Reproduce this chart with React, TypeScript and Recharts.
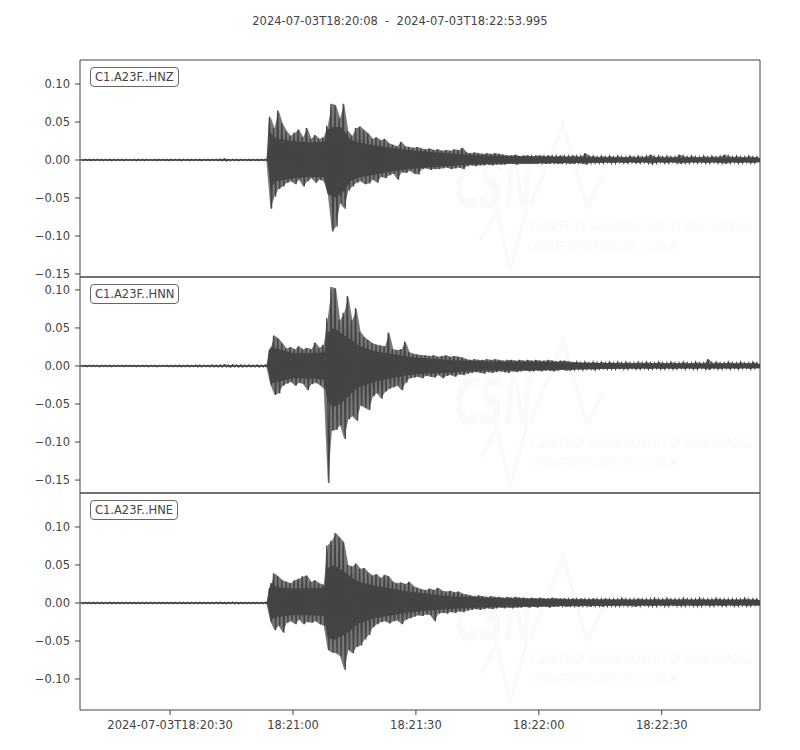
import React from 'react';
import { ComposedChart, Line, Area, XAxis, YAxis, ReferenceArea } from 'recharts';

const FONT = '"DejaVu Sans", sans-serif';
const INK = '#444';
const FAINT = '#fafafa';

const TITLE = '2024-07-03T18:20:08  -  2024-07-03T18:22:53.995';
// seconds after 2024-07-03T18:20:08
const T_END = 165.995;
const TIME_TICKS = [22, 52, 82, 112, 142];
const TIME_LABELS = ['2024-07-03T18:20:30', '18:21:00', '18:21:30', '18:22:00', '18:22:30'];

const CHANNELS = ['C1.A23F..HNZ', 'C1.A23F..HNN', 'C1.A23F..HNE'];

// max / min of the trace in each 1 s window, in units of 1e-3
const hnzHi = [
  0.8, 0.9, 0.8, 0.8, 0.9, 0.8, 0.9, 0.8, 0.8, 0.9,
  0.8, 0.9, 0.8, 0.9, 0.8, 0.8, 0.9, 0.8, 0.9, 0.8,
  0.9, 0.8, 0.8, 0.9, 0.8, 0.9, 0.8, 0.8, 0.9, 0.8,
  0.9, 0.8, 0.9, 1.0, 1.2, 1.6, 1.0, 0.9, 0.8, 0.9,
  0.9, 0.8, 0.9, 0.8, 0.9, 1.0, 57, 42, 65, 48,
  38, 32, 36, 40, 30, 42, 28, 33, 28, 30,
  45, 74, 72, 55, 74, 38, 32, 42, 44, 39,
  35, 28, 30, 26, 28, 22, 20, 18, 24, 18,
  17, 16, 17, 15, 14, 15, 13, 14, 12, 13,
  12, 14, 13, 16, 10, 9, 10, 9, 8, 9,
  8, 9, 8, 7, 6, 6, 7, 5, 6, 6,
  5, 6, 6, 5, 6, 5, 5, 6, 5, 5,
  6, 5, 5, 9, 5, 5, 4, 5, 4, 5,
  4, 5, 4, 4, 5, 4, 5, 4, 5, 7,
  4, 5, 4, 5, 4, 4, 7, 5, 4, 5,
  4, 4, 5, 4, 5, 4, 5, 7, 5, 4,
  5, 4, 4, 5, 4, 4,
];
const hnzLo = [
  -0.8, -0.8, -0.9, -0.8, -0.8, -0.9, -0.8, -0.9, -0.8, -0.8,
  -0.9, -0.8, -0.8, -0.9, -0.8, -0.9, -0.8, -0.8, -0.9, -0.8,
  -0.8, -0.9, -0.8, -0.8, -0.9, -0.8, -0.9, -0.8, -0.8, -0.9,
  -0.8, -0.9, -0.8, -1.0, -1.1, -1.4, -1.0, -0.8, -0.9, -0.8,
  -0.8, -0.9, -0.8, -0.9, -0.8, -1.0, -64, -48, -38, -35,
  -30, -28, -32, -26, -35, -28, -24, -30, -26, -28,
  -45, -94, -88, -57, -64, -40, -35, -30, -28, -32,
  -31, -26, -30, -22, -24, -20, -18, -26, -16, -17,
  -14, -18, -19, -12, -11, -13, -12, -12, -11, -10,
  -12, -11, -10, -12, -8, -7, -8, -7, -7, -6,
  -7, -6, -6, -6, -5, -5, -6, -5, -5, -5,
  -5, -5, -4, -5, -5, -4, -5, -5, -4, -5,
  -5, -4, -5, -6, -4, -4, -4, -4, -3, -4,
  -4, -3, -4, -4, -3, -4, -4, -3, -4, -5,
  -4, -3, -4, -4, -3, -4, -5, -4, -4, -3,
  -4, -3, -4, -4, -3, -4, -4, -5, -4, -3,
  -4, -4, -3, -4, -4, -3,
];
const hnnHi = [
  0.8, 0.8, 0.9, 0.8, 0.8, 0.9, 0.8, 0.8, 0.9, 0.8,
  0.8, 0.9, 0.8, 0.8, 0.9, 0.8, 0.9, 0.8, 0.8, 0.9,
  0.9, 0.8, 0.9, 1.0, 1.1, 0.9, 1.2, 1.0, 1.3, 1.1,
  1.2, 1.0, 1.4, 1.1, 1.3, 1.8, 1.2, 1.6, 1.3, 1.5,
  1.2, 1.4, 1.1, 1.3, 1.2, 1.5, 22, 40, 36, 30,
  23, 25, 22, 26, 22, 24, 22, 31, 24, 28,
  63, 104, 102, 60, 70, 92, 60, 76, 45, 38,
  34, 30, 28, 27, 26, 44, 22, 21, 22, 32,
  18, 16, 15, 14, 14, 13, 14, 12, 13, 14,
  12, 13, 12, 11, 9, 8, 9, 8, 8, 9,
  8, 9, 8, 7, 8, 8, 7, 8, 7, 8,
  7, 8, 7, 7, 8, 7, 6, 7, 7, 6,
  5, 5, 4, 5, 4, 5, 4, 5, 4, 5,
  4, 5, 4, 5, 4, 4, 5, 4, 5, 4,
  4, 5, 4, 4, 5, 4, 4, 5, 4, 4,
  5, 4, 4, 9, 4, 5, 4, 4, 5, 4,
  4, 5, 4, 4, 5, 4,
];
const hnnLo = [
  -0.8, -0.9, -0.8, -0.8, -0.9, -0.8, -0.8, -0.9, -0.8, -0.8,
  -0.9, -0.8, -0.8, -0.9, -0.8, -0.8, -0.9, -0.8, -0.9, -0.8,
  -0.8, -0.9, -1.0, -0.9, -1.1, -1.0, -1.2, -0.9, -1.1, -1.2,
  -1.0, -1.3, -1.1, -1.2, -1.4, -1.2, -1.5, -1.2, -1.4, -1.3,
  -1.2, -1.3, -1.2, -1.4, -1.1, -1.4, -25, -38, -36, -26,
  -23, -21, -26, -22, -24, -32, -24, -22, -25, -30,
  -154, -85, -84, -78, -96, -70, -66, -72, -52, -55,
  -58, -40, -36, -43, -34, -30, -28, -26, -32, -22,
  -16, -15, -14, -16, -13, -14, -15, -12, -16, -13,
  -12, -14, -11, -12, -10, -9, -8, -9, -10, -8,
  -9, -8, -7, -8, -9, -7, -8, -7, -6, -7,
  -7, -6, -7, -6, -6, -7, -6, -5, -6, -6,
  -5, -4, -5, -4, -4, -5, -4, -3, -4, -4,
  -4, -3, -4, -4, -3, -4, -4, -3, -4, -4,
  -3, -4, -4, -3, -4, -4, -3, -4, -3, -4,
  -4, -3, -4, -5, -3, -4, -4, -3, -4, -3,
  -4, -3, -3, -4, -3, -3,
];
const hneHi = [
  1.0, 0.9, 1.0, 1.0, 0.9, 1.0, 1.0, 0.9, 1.0, 1.0,
  0.9, 1.0, 1.0, 0.9, 1.0, 1.0, 0.9, 1.0, 1.0, 0.9,
  1.0, 1.0, 0.9, 1.0, 1.0, 0.9, 1.0, 1.0, 0.9, 1.0,
  1.0, 0.9, 1.0, 1.0, 1.2, 1.0, 1.0, 1.1, 1.0, 0.9,
  1.0, 1.0, 0.9, 1.0, 1.0, 1.1, 20, 39, 35, 30,
  28, 26, 30, 32, 35, 36, 28, 30, 26, 24,
  76, 82, 92, 86, 80, 50, 48, 52, 45, 46,
  40, 36, 38, 33, 37, 35, 28, 26, 27, 25,
  28, 22, 20, 18, 17, 19, 17, 20, 16, 15,
  16, 14, 15, 12, 11, 10, 9, 10, 9, 8,
  9, 8, 8, 7, 8, 7, 8, 7, 7, 6,
  7, 6, 7, 6, 6, 7, 6, 6, 6, 5,
  6, 5, 6, 5, 5, 6, 5, 5, 6, 5,
  5, 5, 6, 5, 5, 5, 6, 5, 5, 5,
  6, 5, 5, 6, 5, 5, 5, 6, 5, 5,
  5, 6, 5, 5, 5, 6, 5, 5, 5, 5,
  5, 5, 6, 5, 5, 5,
];
const hneLo = [
  -1.0, -1.0, -0.9, -1.0, -1.0, -0.9, -1.0, -1.0, -0.9, -1.0,
  -1.0, -0.9, -1.0, -1.0, -0.9, -1.0, -1.0, -0.9, -1.0, -1.0,
  -0.9, -1.0, -1.0, -0.9, -1.0, -1.0, -0.9, -1.0, -1.0, -0.9,
  -1.0, -1.0, -0.9, -1.0, -1.0, -1.2, -1.0, -1.0, -1.1, -1.0,
  -1.0, -0.9, -1.0, -1.0, -1.0, -1.1, -25, -36, -30, -39,
  -26, -24, -28, -22, -28, -25, -26, -24, -28, -30,
  -62, -65, -66, -70, -88, -62, -66, -58, -56, -48,
  -42, -32, -28, -25, -24, -27, -24, -23, -28, -22,
  -20, -18, -16, -17, -15, -16, -24, -14, -13, -14,
  -12, -13, -11, -12, -10, -9, -8, -9, -8, -7,
  -8, -7, -6, -7, -6, -7, -6, -6, -5, -6,
  -5, -6, -5, -5, -6, -5, -5, -4, -5, -5,
  -4, -5, -4, -4, -5, -4, -4, -5, -4, -4,
  -4, -4, -3, -4, -4, -5, -4, -3, -4, -4,
  -4, -3, -4, -4, -3, -4, -4, -4, -3, -4,
  -4, -4, -3, -4, -4, -3, -4, -4, -3, -4,
  -4, -3, -4, -4, -3, -4,
];

// the solid body of each trace (where samples are dense), read at these times, same units
const coreTimes = [0, 45.8, 46.5, 48, 52, 56, 59.6, 60.4, 62, 64, 66, 68, 72, 76, 80, 85, 90, 95, 100, 110, 120, 135, 150, 166];
const hnzCoreHi = [0.6, 0.6, 36, 28, 25, 23, 24, 40, 44, 42, 27, 23, 19, 16, 13, 11, 9, 7, 5.5, 4.5, 3.5, 3, 3, 3];
const hnzCoreLo = [-0.6, -0.6, -36, -28, -24, -22, -23, -44, -50, -44, -28, -23, -19, -15, -12, -10, -8, -6, -5, -4.5, -3.5, -3, -3, -3];
const hnnCoreHi = [0.6, 0.6, 25, 23, 17, 17, 18, 44, 50, 42, 35, 27, 19, 16, 12, 10, 8, 7, 6, 5.5, 4.5, 3.2, 3, 3];
const hnnCoreLo = [-0.6, -0.6, -23, -21, -16, -16, -18, -48, -54, -48, -37, -28, -21, -16, -12, -10, -9, -7, -6, -5.5, -4.5, -3.2, -3, -3];
const hneCoreHi = [0.7, 0.7, 27, 21, 19, 19, 20, 46, 50, 43, 35, 28, 23, 19, 15, 12, 9, 8, 6.5, 5.5, 4.5, 4, 3.8, 3.8];
const hneCoreLo = [-0.7, -0.7, -22, -18, -16, -16, -17, -45, -49, -43, -37, -27, -20, -16, -13, -10, -8, -6.5, -5.5, -4.5, -3.8, -3.2, -3, -3];

const hnzRange: [number, number] = [-0.154, 0.1316];
const hnnRange: [number, number] = [-0.167, 0.117];
const hneRange: [number, number] = [-0.1408, 0.1447];
const ticksZN = [0.1, 0.05, 0, -0.05, -0.1, -0.15];
const ticksE = [0.1, 0.05, 0, -0.05, -0.1];

type Row = { t: number; v?: number; band?: [number, number]; core?: [number, number] };

// spikes: max then min of each window, a shaded band between them,
// and the solid body between the core values
const toRows = (hi: number[], lo: number[], coreHi: number[], coreLo: number[]): Row[] => {
  const spikes: Row[] = hi.flatMap((h, i) => [
    { t: i + 0.25, v: h / 1000 },
    { t: i + 0.5, band: [lo[i] / 1000, h / 1000] as [number, number] },
    { t: i + 0.75, v: lo[i] / 1000 },
  ]);
  const body: Row[] = coreTimes.map((t, k) => ({ t, core: [coreLo[k] / 1000, coreHi[k] / 1000] as [number, number] }));
  return [...spikes, ...body].sort((a, b) => a.t - b.t);
};

const fmtAmp = (v: number) => (v < 0 ? '\u2212' : '') + Math.abs(v).toFixed(2);
const fmtTime = (v: number) => TIME_LABELS[TIME_TICKS.indexOf(v)] ?? '';

const tickStyle = { fill: INK, fontSize: 11.5, fontFamily: FONT };

interface PanelProps {
  label: string;
  rows: Row[];
  domain: [number, number];
  ticks: number[];
  plotTop: number;
  plotBottom: number;
  showTime?: boolean;
}

const Panel: React.FC<PanelProps> = ({ label, rows, domain, ticks, plotTop, plotBottom, showTime }) => {
  const top = plotTop - 10;
  const height = plotBottom - top + (showTime ? 40 : 10);
  return (
    <div style={{ position: 'absolute', left: 0, top, width: 800, height }}>
      <ComposedChart width={800} height={height} data={rows} margin={{ top: 10, right: 40, bottom: showTime ? 0 : 10, left: 0 }}>
        <XAxis
          type="number"
          dataKey="t"
          domain={[0, T_END]}
          allowDataOverflow
          ticks={TIME_TICKS}
          interval={0}
          hide={!showTime}
          height={showTime ? 40 : 0}
          axisLine={false}
          tickLine={{ stroke: INK }}
          tickSize={5}
          tickMargin={6}
          tick={tickStyle}
          tickFormatter={fmtTime}
        />
        <YAxis
          type="number"
          domain={domain}
          allowDataOverflow
          ticks={ticks}
          interval={0}
          width={80}
          axisLine={false}
          tickLine={{ stroke: INK }}
          tickSize={5}
          tickMargin={5}
          tick={tickStyle}
          tickFormatter={fmtAmp}
        />
        <Area type="linear" dataKey="band" stroke="none" fill={INK} fillOpacity={0.72} connectNulls dot={false} activeDot={false} isAnimationActive={false} />
        <Area type="linear" dataKey="core" stroke="none" fill={INK} fillOpacity={1} connectNulls dot={false} activeDot={false} isAnimationActive={false} />
        <Line type="linear" dataKey="v" stroke={INK} strokeWidth={1.3} connectNulls dot={false} activeDot={false} isAnimationActive={false} />
        <ReferenceArea x1={0} x2={T_END} y1={domain[0]} y2={domain[1]} fill="none" stroke={INK} strokeWidth={1} ifOverflow="visible" />
      </ComposedChart>
      <div
        style={{
          position: 'absolute',
          left: 90,
          top: 17,
          padding: '2px 4px',
          lineHeight: '14px',
          fontSize: 11.5,
          fontFamily: FONT,
          color: INK,
          background: '#fff',
          border: '1px solid #666',
          borderRadius: 4,
        }}
      >
        {label}
      </div>
    </div>
  );
};

// faint CSN logo printed behind each trace
const Watermark: React.FC<{ y0: number }> = ({ y0 }) => (
  <g fill={FAINT} stroke="none" fontFamily='"DejaVu Sans Condensed", "DejaVu Sans", sans-serif' fontStyle="italic">
    <text x={455} y={y0 + 147} fontSize={64} fontWeight="bold" textLength={78} lengthAdjust="spacingAndGlyphs">CSN</text>
    <polyline points={`530,${y0 + 147} 563,${y0 + 65} 587,${y0 + 147} 603,${y0 + 115}`} fill="none" stroke={FAINT} strokeWidth={4} />
    <polyline points={`480,${y0 + 180} 490,${y0 + 165} 497,${y0 + 150} 510,${y0 + 210} 527,${y0 + 147}`} fill="none" stroke={FAINT} strokeWidth={4} />
    <text x={530} y={y0 + 171} fontSize={14} textLength={222} lengthAdjust="spacingAndGlyphs">CENTRO SISMOLÓGICO NACIONAL</text>
    <text x={528} y={y0 + 191} fontSize={14} textLength={150} lengthAdjust="spacingAndGlyphs">UNIVERSIDAD DE CHILE</text>
  </g>
);

const hnzRows = toRows(hnzHi, hnzLo, hnzCoreHi, hnzCoreLo);
const hnnRows = toRows(hnnHi, hnnLo, hnnCoreHi, hnnCoreLo);
const hneRows = toRows(hneHi, hneLo, hneCoreHi, hneCoreLo);

export default function App() {
  return (
    <div style={{ position: 'absolute', left: 0, top: 0, width: 800, height: 750, background: '#fff', fontFamily: FONT }}>
      <svg width={800} height={750} style={{ position: 'absolute', left: 0, top: 0 }}>
        <Watermark y0={60} />
        <Watermark y0={277} />
        <Watermark y0={493} />
      </svg>
      <div
        style={{
          position: 'absolute',
          left: 0,
          top: 14,
          width: 800,
          textAlign: 'center',
          fontSize: 11.5,
          lineHeight: '14px',
          color: INK,
          whiteSpace: 'pre',
        }}
      >
        {TITLE}
      </div>
      <Panel label={CHANNELS[0]} rows={hnzRows} domain={hnzRange} ticks={ticksZN} plotTop={60} plotBottom={277} />
      <Panel label={CHANNELS[1]} rows={hnnRows} domain={hnnRange} ticks={ticksZN} plotTop={277} plotBottom={493} />
      <Panel label={CHANNELS[2]} rows={hneRows} domain={hneRange} ticks={ticksE} plotTop={493} plotBottom={710} showTime />
    </div>
  );
}
